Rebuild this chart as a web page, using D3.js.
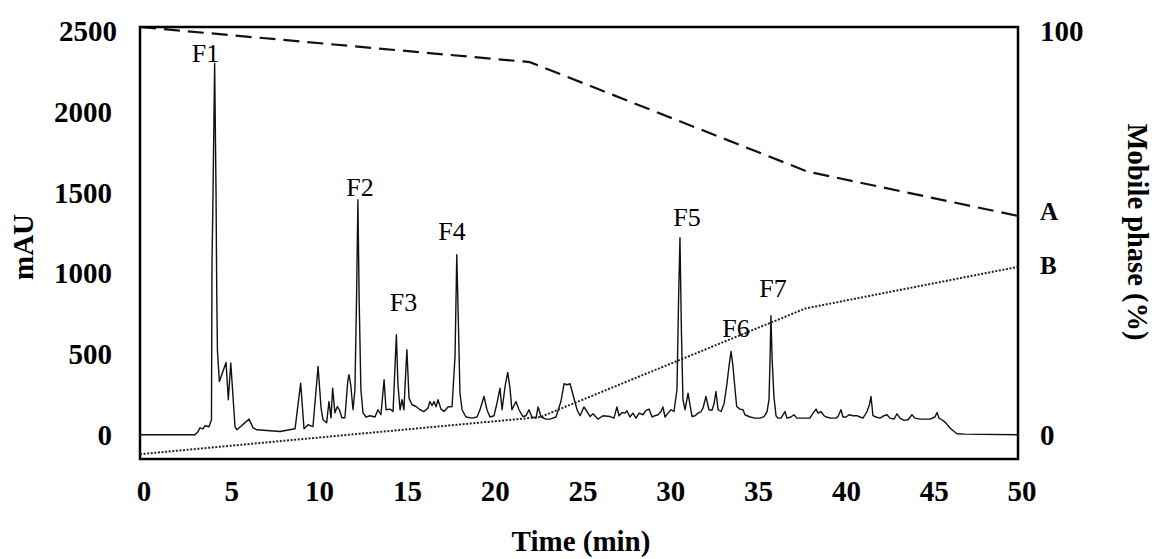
<!DOCTYPE html>
<html lang="en">
    <head>
        <meta charset="utf-8">
        <title>Chromatogram</title>
        <script src="https://d3js.org/d3.v7.min.js"></script>
        <style>
            body { margin: 0; background: #fff; }
            text { font-family: "Liberation Serif", "Times New Roman", serif; fill: #000; }
        </style>
    </head>
    <body>
        <div id="dataviz"></div>
        <script>
            // chromatogram, time (min) and absorbance (mAU)
            var times = [0, 3.13, 3.30, 3.42, 3.59, 3.70, 3.93, 4.07, 4.10, 4.15, 4.25, 4.33, 4.37, 4.41, 4.52,
                4.90, 5.03, 5.17, 5.41, 5.52, 6.21, 6.44, 6.66, 7.97, 8.83, 9.15, 9.34, 9.57, 9.85,
                10.14, 10.31, 10.42, 10.63, 10.76, 10.88, 10.97, 11.10, 11.24, 11.35, 11.50, 11.67, 11.83, 11.90,
                12.00, 12.13, 12.24, 12.33, 12.41, 12.48, 12.58, 12.70, 12.87, 13.10, 13.38, 13.55, 13.72, 13.90,
                14.01, 14.24, 14.41, 14.49, 14.60, 14.69, 14.81, 14.92, 15.03, 15.14, 15.20, 15.32, 15.49, 15.72,
                15.95, 16.17, 16.40, 16.51, 16.63, 16.74, 16.86, 16.97, 17.14, 17.31, 17.54, 17.77, 17.94, 18.04,
                18.14, 18.22, 18.34, 18.56, 18.91, 19.19, 19.36, 19.59, 19.76, 19.93, 20.16, 20.33, 20.50, 20.62,
                20.79, 20.94, 21.07, 21.18, 21.41, 21.58, 21.81, 21.98, 22.15, 22.32, 22.55, 22.67, 22.84, 23.12,
                23.35, 23.69, 23.97, 24.15, 24.32, 24.49, 24.66, 24.89, 25.06, 25.28, 25.46, 25.63, 25.80, 25.97,
                26.08, 26.37, 26.77, 26.99, 27.16, 27.28, 27.45, 27.62, 27.73, 27.90, 28.07, 28.25, 28.42, 28.64,
                28.82, 28.99, 29.16, 29.33, 29.50, 29.67, 29.78, 29.90, 30.07, 30.24, 30.41, 30.58, 30.67, 30.75,
                30.83, 30.92, 31.04, 31.21, 31.32, 31.44, 31.61, 31.78, 31.95, 32.06, 32.23, 32.40, 32.57, 32.69,
                32.80, 32.92, 33.09, 33.26, 33.43, 33.54, 33.66, 33.77, 33.88, 33.98, 34.17, 34.34, 34.45, 34.74,
                35.02, 35.31, 35.54, 35.71, 35.82, 35.88, 35.93, 36.00, 36.10, 36.22, 36.33, 36.50, 36.73, 36.84,
                37.07, 37.24, 37.41, 37.76, 38.15, 38.33, 38.50, 38.61, 38.78, 38.95, 39.07, 39.35, 39.64, 39.75,
                39.92, 40.03, 40.21, 40.38, 40.60, 40.83, 41.00, 41.17, 41.29, 41.40, 41.54, 41.63, 41.74, 41.91,
                42.14, 42.37, 42.54, 42.71, 42.94, 43.11, 43.28, 43.51, 43.74, 43.96, 44.13, 44.42, 44.70, 44.99,
                45.27, 45.39, 45.50, 45.67, 45.90, 46.13, 46.36, 46.53, 46.98, 50];
            var mau = [0, 0, 19, 43, 37, 56, 50, 93, 1066, 1420, 2300, 1500, 880, 520, 330,
                448, 217, 444, 51, 31, 97, 43, 31, 20, 37, 320, 37, 62, 51,
                423, 167, 93, 74, 206, 105, 289, 136, 175, 155, 105, 105, 330, 372,
                310, 155, 279, 836, 1456, 836, 279, 136, 110, 118, 110, 155, 124, 341,
                155, 159, 144, 341, 620, 310, 155, 217, 155, 403, 527, 227, 186, 175,
                155, 144, 165, 206, 180, 206, 173, 217, 159, 144, 172, 175, 485, 1115,
                650, 260, 155, 110, 103, 110, 155, 237, 155, 110, 118, 196, 289, 155,
                299, 386, 289, 155, 206, 155, 113, 118, 155, 110, 103, 172, 110, 97,
                97, 110, 206, 316, 310, 316, 248, 155, 118, 172, 144, 113, 130, 110,
                97, 118, 113, 103, 172, 118, 138, 134, 149, 110, 134, 103, 134, 124,
                151, 159, 110, 118, 124, 144, 172, 110, 134, 155, 144, 279, 836, 1220,
                650, 217, 155, 258, 186, 113, 118, 134, 144, 165, 237, 155, 151, 192,
                268, 155, 144, 192, 320, 423, 516, 423, 289, 175, 159, 155, 124, 110,
                103, 103, 113, 144, 217, 465, 737, 465, 237, 118, 103, 103, 144, 103,
                110, 124, 103, 103, 103, 134, 159, 134, 144, 118, 110, 103, 103, 113,
                155, 110, 110, 124, 118, 118, 110, 103, 124, 144, 186, 237, 118, 110,
                103, 118, 124, 103, 97, 130, 103, 89, 93, 124, 103, 97, 97, 97,
                110, 138, 103, 93, 72, 42, 20, 6, 4, 0];

            // mobile phase gradient (%)
            var timesA = [0, 22.2, 38.0, 50];
            var phaseA = [101, 92.3, 65.2, 54.2];
            var timesB = [0, 22.8, 37.9, 50];
            var phaseB = [-4.8, 4.4, 31.3, 41.6];

            // fraction labels
            var peakNames = ["F1", "F2", "F3", "F4", "F5", "F6", "F7"];
            var peakTimes = [3.73, 12.53, 15.01, 17.77, 31.15, 33.94, 36.05];
            var peakLabelMau = [2311, 1481, 764, 1208, 1295, 605, 854];

            var xTicks = [0, 5, 10, 15, 20, 25, 30, 35, 40, 45, 50];
            var yTicks = [0, 500, 1000, 1500, 2000, 2500];
            var rightTicks = [0, 100];

            var width = 1152, height = 559;
            var plot = {left: 140, right: 1018, top: 27, bottom: 459};

            var svg = d3.select("#dataviz")
                        .append("svg")
                        .attr("width", width)
                        .attr("height", height);

            var x = d3.scaleLinear().domain([0, 50]).range([plot.left, plot.right]);
            var y = d3.scaleLinear().domain([-150, 2525]).range([plot.bottom, plot.top]);
            var y2 = d3.scaleLinear().domain([-6, 101]).range([plot.bottom, plot.top]);

            var chrom = times.map(function(t, i) { return [t, mau[i]]; });
            var gradA = timesA.map(function(t, i) { return [t, phaseA[i]]; });
            var gradB = timesB.map(function(t, i) { return [t, phaseB[i]]; });

            var line1 = d3.line().x(function(d) { return x(d[0]); }).y(function(d) { return y(d[1]); });
            var line2 = d3.line().x(function(d) { return x(d[0]); }).y(function(d) { return y2(d[1]); });

            svg.append("path")
                .attr("d", line1(chrom))
                .style("fill", "none")
                .style("stroke", "#111")
                .style("stroke-width", 1.4)
                .style("stroke-linejoin", "round");

            svg.append("path")
                .attr("d", line2(gradA))
                .style("fill", "none")
                .style("stroke", "#111")
                .style("stroke-width", 2.2)
                .style("stroke-dasharray", "16,8");

            svg.append("path")
                .attr("d", line2(gradB))
                .style("fill", "none")
                .style("stroke", "#222")
                .style("stroke-width", 2)
                .style("stroke-dasharray", "2,1.6");

            // frame
            svg.append("rect")
                .attr("x", plot.left)
                .attr("y", plot.top)
                .attr("width", plot.right - plot.left)
                .attr("height", plot.bottom - plot.top)
                .style("fill", "none")
                .style("stroke", "#000")
                .style("stroke-width", 2.5);

            // axes labels (no tick marks in the original)
            svg.selectAll(".ylab")
                .data(yTicks).enter()
                .append("text")
                .attr("x", function(d) { return d == 2500 ? 117 : 112; })
                .attr("y", function(d) { return y(d); })
                .attr("dy", "0.35em")
                .style("text-anchor", "end")
                .style("font-size", "29px")
                .style("font-weight", "bold")
                .text(function(d) { return d; });

            svg.selectAll(".rlab")
                .data(rightTicks).enter()
                .append("text")
                .attr("x", 1040)
                .attr("y", function(d) { return y2(d); })
                .attr("dy", "0.35em")
                .style("font-size", "29px")
                .style("font-weight", "bold")
                .text(function(d) { return d; });

            svg.selectAll(".xlab")
                .data(xTicks).enter()
                .append("text")
                .attr("x", function(d) { return x(d) + 4; })
                .attr("y", 501)
                .style("text-anchor", "middle")
                .style("font-size", "29px")
                .style("font-weight", "bold")
                .text(function(d) { return d; });

            svg.append("text")
                .attr("x", (plot.left + plot.right) / 2 + 2)
                .attr("y", 551)
                .style("text-anchor", "middle")
                .style("font-size", "29px")
                .style("font-weight", "bold")
                .text("Time (min)");

            svg.append("text")
                .attr("transform", "translate(33,247) rotate(-90)")
                .style("text-anchor", "middle")
                .style("font-size", "29px")
                .style("font-weight", "bold")
                .text("mAU");

            svg.append("text")
                .attr("transform", "translate(1128,232) rotate(90)")
                .style("text-anchor", "middle")
                .style("font-size", "28.5px")
                .style("font-weight", "bold")
                .text("Mobile phase (%)");

            svg.append("text")
                .attr("x", 1040)
                .attr("y", y2(phaseA[phaseA.length - 1]) - 5)
                .attr("dy", "0.35em")
                .style("font-size", "25px")
                .style("font-weight", "bold")
                .text("A");

            svg.append("text")
                .attr("x", 1040)
                .attr("y", y2(phaseB[phaseB.length - 1]) - 2)
                .attr("dy", "0.35em")
                .style("font-size", "25px")
                .style("font-weight", "bold")
                .text("B");

            svg.selectAll(".peak")
                .data(peakNames).enter()
                .append("text")
                .attr("x", function(d, i) { return x(peakTimes[i]); })
                .attr("y", function(d, i) { return y(peakLabelMau[i]); })
                .style("text-anchor", "middle")
                .style("font-size", "26px")
                .text(function(d) { return d; });
        </script>
    </body>
</html>
